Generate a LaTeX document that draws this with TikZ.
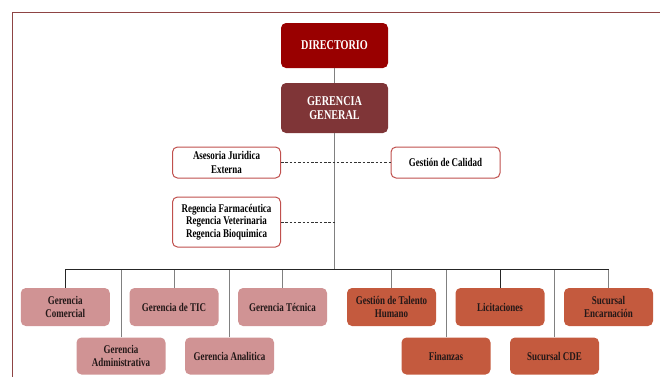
\documentclass[tikz,border=0pt]{standalone}
\usepackage{fontspec}
\setmainfont{Liberation Serif}[FakeStretch=0.76]
\definecolor{dirred}{HTML}{990000}
\definecolor{ggred}{HTML}{7F3537}
\definecolor{pinkbox}{HTML}{D09394}
\definecolor{orangebox}{HTML}{C45A3E}
\definecolor{boxborder}{HTML}{C0504D}
\definecolor{framecol}{HTML}{8E4444}
\definecolor{txtdark}{HTML}{231818}
\definecolor{linegray}{HTML}{808080}
\tikzset{
  basebox/.style={rectangle, rounded corners=5pt, inner sep=0pt, align=center, font=\bfseries\fontsize{11.8}{13.2}\selectfont},
  topbox/.style={basebox, minimum width=107pt, text=white, font=\bfseries\fontsize{13.4}{14.2}\selectfont},
  whitebox/.style={basebox, draw=boxborder, line width=1pt, fill=white, text=black, minimum width=108pt, minimum height=31pt},
  pinkunit/.style={basebox, fill=pinkbox, text=txtdark, minimum width=89pt, minimum height=38pt},
  orangeunit/.style={basebox, fill=orangebox, text=txtdark, minimum width=89pt, minimum height=38pt},
  conn/.style={draw=linegray, line width=0.8pt},
  busline/.style={draw=black!85, line width=0.8pt},
  dashconn/.style={draw=black!80, line width=0.8pt, dash pattern=on 2.5pt off 1.8pt},
  framestyle/.style={draw=framecol, line width=1.8pt}
}
\begin{document}
\begin{tikzpicture}[x=1pt,y=-1pt]
\useasboundingbox (0,0) rectangle (660,376);
\clip (0,0) rectangle (660,376);
\draw[framestyle] (12.5,380) -- (12.5,12.5) -- (664,12.5);

\node[topbox, fill=dirred, minimum height=45pt] (dir) at (334.5,45.5) {DIRECTORIO};
\node[topbox, fill=ggred, minimum height=50pt] (gg) at (334.5,108) {GERENCIA\\GENERAL};

\node[whitebox] (ase) at (226.5,162.5) {Asesoria Juridica\\Externa};
\node[whitebox, minimum width=109pt] (cal) at (445.5,162.5) {Gestión de Calidad};
\node[whitebox, minimum height=50pt, font=\bfseries\fontsize{11.8}{12.5}\selectfont] (reg) at (226.5,222) {Regencia Farmacéutica\\Regencia Veterinaria\\Regencia Bioquimica};

\node[pinkunit] (com) at (65.3,307) {Gerencia\\Comercial};
\node[pinkunit] (tic) at (174,307) {Gerencia de TIC};
\node[pinkunit] (tec) at (282.5,307) {Gerencia Técnica};
\node[orangeunit] (tal) at (391.5,307) {Gestión de Talento\\Humano};
\node[orangeunit] (lic) at (500,307) {Licitaciones};
\node[orangeunit] (enc) at (608.5,307) {Sucursal\\Encarnación};

\node[pinkunit, minimum height=37pt] (adm) at (121,356) {Gerencia\\Administrativa};
\node[pinkunit, minimum height=37pt] (ana) at (229.5,356) {Gerencia Analitica};
\node[orangeunit, minimum height=37pt] (fin) at (446,356) {Finanzas};
\node[orangeunit, minimum height=37pt] (cde) at (554.5,356) {Sucursal CDE};

\coordinate (bus) at (334.5,269.5);

\draw[conn] (dir.south) -- (gg.north);
\draw[conn] (gg.south) -- (bus);
\draw[dashconn] (ase.east) -- (cal.west);
\draw[dashconn] (reg.east) -- (reg.east -| gg.south);

\draw[busline] (com.north |- bus) -- (enc.north |- bus);
\draw[busline] (com.north) -- (com.north |- bus);
\draw[busline] (lic.north) -- (lic.north |- bus);
\foreach \n in {tic,tec,tal,enc,adm,ana,fin,cde}
  \draw[conn] (\n.north) -- (\n.north |- bus);
\end{tikzpicture}
\end{document}
